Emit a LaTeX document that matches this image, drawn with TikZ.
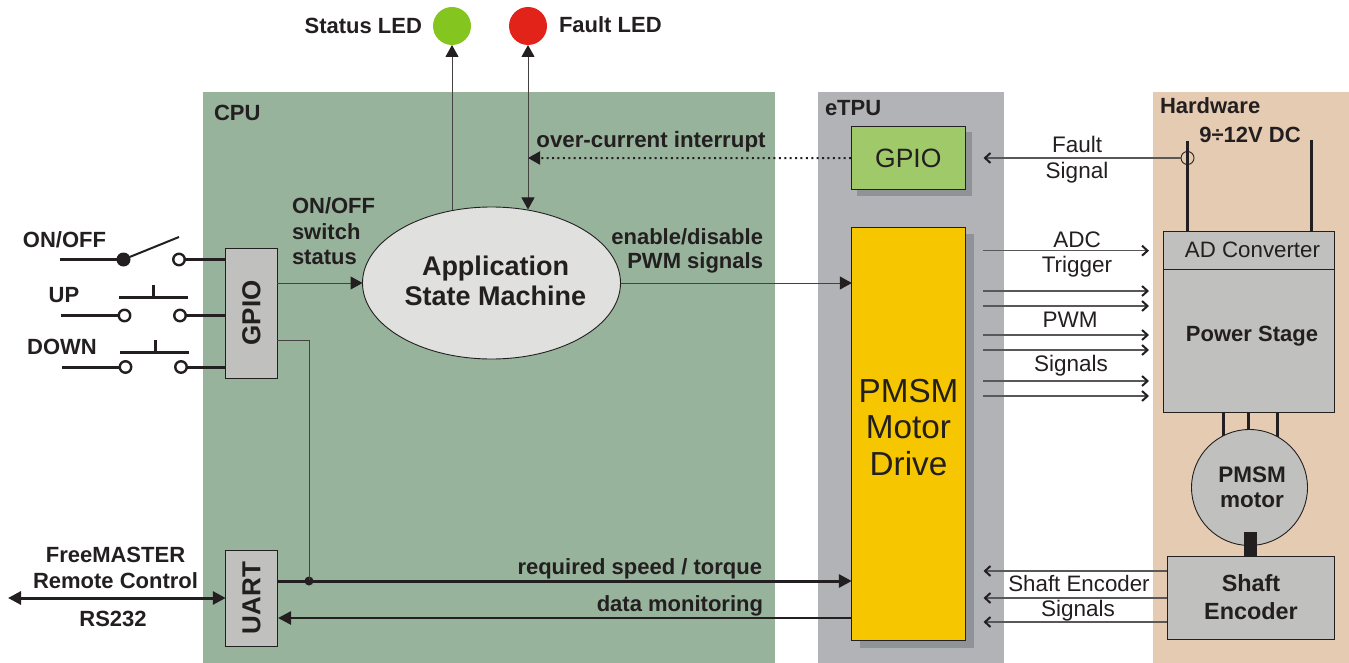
\documentclass[tikz,border=0pt]{standalone}
\usepackage{fontspec}
\setmainfont{Liberation Sans}
\usetikzlibrary{arrows.meta,calc,shapes.geometric}
\definecolor{ink}{HTML}{231F20}
\definecolor{cpubg}{HTML}{98B39B}
\definecolor{etpubg}{HTML}{B1B3B6}
\definecolor{hwbg}{HTML}{E5CBB2}
\definecolor{boxgray}{HTML}{C0C0BF}
\definecolor{shade}{HTML}{8F9297}
\definecolor{pmsmy}{HTML}{F6C700}
\definecolor{gpiog}{HTML}{A0CA6A}
\definecolor{ellg}{HTML}{E0E0DF}
\definecolor{ledg}{HTML}{85C51F}
\definecolor{ledr}{HTML}{E2231A}
\tikzset{
  x=1pt,y=-1pt,
  every node/.style={inner sep=0pt,outer sep=0pt,text=ink,align=center},
  lab/.style={font=\fontsize{22}{26}\selectfont\bfseries},
  lab2/.style={font=\fontsize{22}{25.5}\selectfont\bfseries},
  reg/.style={font=\fontsize{22.5}{26}\selectfont},
  block/.style={rectangle,draw=ink,line width=0.9pt,fill=boxgray},
  wire/.style={draw=ink,line width=3pt},
  thin wire/.style={draw=ink!85,line width=1pt},
  contact/.style={circle,draw=ink,line width=2.4pt,fill=white,minimum size=11.5pt},
  tri/.style={-{Triangle[length=12pt,width=13pt,color=ink]}},
  tribig/.style={-{Triangle[length=13pt,width=13pt,color=ink]}},
  chev/.style={-{Straight Barb[length=5.5pt,width=10pt,line width=2pt,color=ink]},draw=ink!75,line width=1.3pt},
}
\begin{document}
\begin{tikzpicture}
\useasboundingbox (0,0) rectangle (1349,663);
% regions
\node[fill=cpubg,minimum width=572pt,minimum height=571pt] (cpu) at (489,377.5) {};
\node[fill=etpubg,minimum width=186pt,minimum height=571pt] (etpu) at (911,377.5) {};
\node[fill=hwbg,minimum width=196pt,minimum height=571pt] (hw) at (1251,377.5) {};
\node[lab,anchor=west] (cputitle) at (214,113) {CPU};
\node[lab,anchor=west] (etputitle) at (825,108) {eTPU};
\node[lab,anchor=west] (hwtitle) at (1160,106) {Hardware};
\node[lab] (vdc) at (1250,135) {9÷12V DC};

% shadows
\node[fill=shade,minimum width=115pt,minimum height=64pt] (gpioshadow) at (914.5,164) {};
\node[fill=shade,minimum width=114pt,minimum height=414pt] (pmsmshadow) at (917,441) {};

% blocks
\node[block,minimum width=51.5pt,minimum height=130pt,font=\fontsize{26}{30}\selectfont\bfseries] (gpioL) at (251.5,313) {\rotatebox{90}{GPIO}};
\node[block,minimum width=51.5pt,minimum height=96pt,font=\fontsize{26}{30}\selectfont\bfseries] (uart) at (251.5,598) {\rotatebox{90}{UART}};
\node[ellipse,draw=ink,line width=0.9pt,fill=ellg,minimum width=258pt,minimum height=152pt] (asm) at (491.5,283) {};
\node[font=\fontsize{27}{29.5}\selectfont\bfseries] (asmtext) at (495.5,281) {Application\\State Machine};
\node[block,fill=gpiog,minimum width=114.5pt,minimum height=63pt,font=\fontsize{26.5}{30}\selectfont] (gpioE) at (908.3,158.2) {GPIO};
\node[block,fill=pmsmy,minimum width=114pt,minimum height=413pt] (pmsm) at (908.8,433.8) {};
\node[font=\fontsize{33.3}{36.5}\selectfont] (pmsmtext) at (908.5,427.5) {PMSM\\Motor\\Drive};
\node[block,minimum width=171pt,minimum height=38pt] (adc) at (1249.2,250) {};
\node[font=\fontsize{22.3}{26}\selectfont] (adctext) at (1252.5,250) {AD Converter};
\node[block,minimum width=171pt,minimum height=143pt] (power) at (1249.2,340.5) {};
\node[font=\fontsize{22}{26}\selectfont\bfseries] (powertext) at (1252,336.5) {Power Stage};
\coordinate (w1) at (1223,412); \coordinate (w2) at (1248,412); \coordinate (w3) at (1277,412);
\coordinate (w1e) at (1223,440); \coordinate (w2e) at (1248,440); \coordinate (w3e) at (1277,440);
\draw[wire] (w1) -- (w1e); \draw[wire] (w2) -- (w2e); \draw[wire] (w3) -- (w3e);
\node[circle,draw=ink,line width=0.9pt,fill=boxgray,minimum size=116pt] (motor) at (1249.5,487.5) {};
\node[font=\fontsize{22.5}{25.5}\selectfont\bfseries] (motortext) at (1252,487.5) {PMSM\\motor};
\node[block,minimum width=167.5pt,minimum height=83pt,font=\fontsize{23.4}{28}\selectfont\bfseries] (enc) at (1251,597.5) {Shaft\\Encoder};
\node[fill=ink,minimum width=13pt,minimum height=24pt] (shaft) at (1250.5,544) {};

% LEDs
\node[circle,fill=ledg,minimum size=38pt] (ledS) at (452,26) {};
\node[circle,fill=ledr,minimum size=38pt] (ledF) at (528,26) {};
\node[lab,anchor=east] (ledStext) at (422,26) {Status LED};
\node[lab,anchor=west] (ledFtext) at (559,25) {Fault LED};

% ASM connectors
\coordinate (asmS) at (452,210.5);
\coordinate (asmF) at (528,209.5);
\draw[thin wire,tri] (asmS) -- (ledS.south);
\draw[thin wire,{Triangle[length=12pt,width=13pt,color=ink]}-{Triangle[length=12pt,width=13pt,color=ink]}] (ledF.south) -- (asmF);
\coordinate (dotE) at (528,158);
\draw[draw=ink,line width=2pt,dash pattern=on 2pt off 3.4pt,-{Triangle[length=12pt,width=13pt,color=ink,sep=0pt]}] (gpioE.west) -- (dotE);
\node[lab2,font=\fontsize{22.3}{26}\selectfont\bfseries] (ocint) at (651,142) {over-current interrupt};
\draw[thin wire,tri] (gpioL.east |- asm.west) -- (asm.west);
\draw[thin wire,tri] (asm.east) -- (pmsm.west |- asm.east);
\node[lab2,anchor=west,align=left] (onoff) at (292,231.5) {ON/OFF\\switch\\status};
\node[lab2,anchor=east,align=right,font=\fontsize{22}{24.5}\selectfont\bfseries] (endis) at (763,251) {enable/disable\\PWM signals};

% UART, GPIO bus
\coordinate (gpioB) at (277,340);
\coordinate (busC) at (309,340);
\coordinate (uartA) at (277,581);
\coordinate (uartD) at (278,618);
\node[circle,fill=ink,minimum size=9pt] (junction) at (309,581) {};
\draw[thin wire] (gpioB) -- (busC) -- (junction.center);
\draw[wire,tribig] (uartA) -- (pmsm.west |- uartA);
\draw[draw=ink,line width=2.6pt,tribig] (pmsm.west |- uartD) -- (uartD);
\node[lab2,anchor=east] (reqsp) at (762,569) {required speed / torque};
\node[lab2,anchor=east] (datamon) at (763,606) {data monitoring};
\coordinate (rsL) at (8,598);
\draw[wire,{Triangle[length=13pt,width=13pt,color=ink]}-{Triangle[length=13pt,width=13pt,color=ink]}] (rsL) -- (uart.west |- rsL);
\node[lab2] (fm) at (115.5,568) {FreeMASTER\\Remote Control};
\node[lab2] (rs) at (113,619) {RS232};

% switches
\node[lab2] (lbOn) at (64.5,240) {ON/OFF};
\node[lab2] (lbUp) at (64,295) {UP};
\node[lab2] (lbDn) at (62,347) {DOWN};
\coordinate (onL) at (60,259.5);
\coordinate (upL) at (61,315.5);
\coordinate (dnL) at (62,367);
\coordinate (armE) at (179,237);
\node[circle,fill=ink,minimum size=14pt] (onA) at (123.5,259.5) {};
\node[contact] (onB) at (179,259.5) {};
\node[contact] (upA) at (124.5,315.5) {};
\node[contact] (upB) at (180,315.5) {};
\node[contact] (dnA) at (125.5,367) {};
\node[contact] (dnB) at (181,367) {};
\draw[wire] (onL) -- (onA);
\draw[draw=ink,line width=2pt] (onA) -- (armE);
\draw[wire] (onB) -- (gpioL.west |- onB);
\draw[wire] (upL) -- (upA);
\draw[wire] (upB) -- (gpioL.west |- upB);
\draw[wire] (dnL) -- (dnA);
\draw[wire] (dnB) -- (gpioL.west |- dnB);
\coordinate (ub1) at (119,297); \coordinate (ub2) at (188,297);
\coordinate (us1) at (153.5,297); \coordinate (us2) at (153.5,285);
\coordinate (db1) at (120,352); \coordinate (db2) at (189,352);
\coordinate (ds1) at (155.5,352); \coordinate (ds2) at (155.5,340);
\draw[wire] (ub1) -- (ub2);
\draw[draw=ink,line width=2.4pt] (us1) -- (us2);
\draw[wire] (db1) -- (db2);
\draw[draw=ink,line width=2.4pt] (ds1) -- (ds2);

% supply
\coordinate (v1) at (1187.5,141);
\coordinate (v2) at (1311,140);
\draw[wire] (v1) -- (v1 |- adc.north);
\draw[wire] (v2) -- (v2 |- adc.north);
\node[circle,draw=ink,line width=0.9pt,minimum size=13pt] (tap) at (1187.5,158) {};
\coordinate (fsE) at (983.5,158);
\draw[chev] (tap.west) -- (fsE);
\node[reg,font=\fontsize{22.5}{25.5}\selectfont] (fsT) at (1077,159.5) {Fault\\Signal};

% right arrows
\foreach \n/\y in {a/250.7,b/291,c/306,d/335,e/350,f/381,g/396}{
  \coordinate (s\n) at (983,\y);
  \coordinate (t\n) at (1149,\y);
  \draw[chev] (s\n) -- (t\n);
}
\node[reg,font=\fontsize{22.5}{25}\selectfont] (adcT) at (1077,254.5) {ADC\\Trigger};
\node[reg] (pwmT) at (1070,320) {PWM};
\node[reg] (sigT) at (1071,366) {Signals};

% encoder arrows
\foreach \n/\y in {h/571,i/598,j/622}{
  \coordinate (e\n) at (983.5,\y);
  \draw[chev] (enc.west |- e\n) -- (e\n);
}
\node[reg,font=\fontsize{22.3}{26}\selectfont] (seT) at (1079,584) {Shaft Encoder};
\node[reg] (seS) at (1078,611) {Signals};
\end{tikzpicture}
\end{document}
